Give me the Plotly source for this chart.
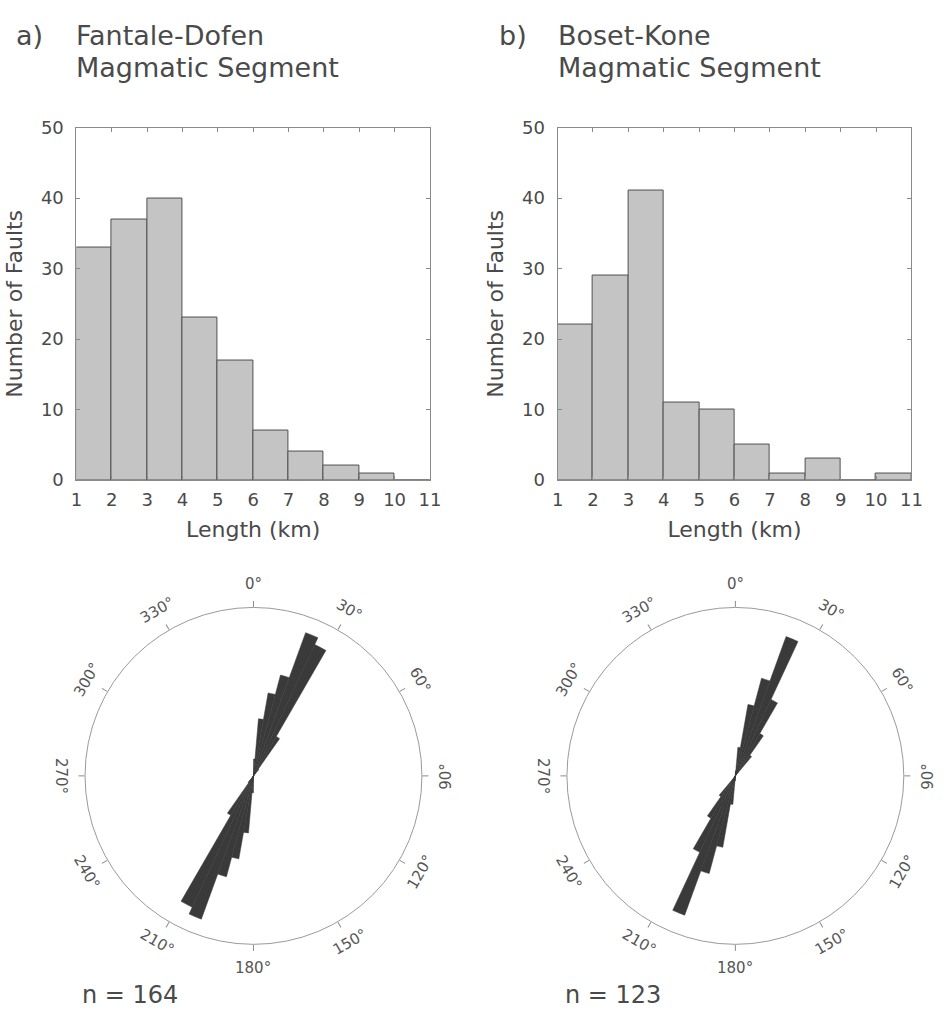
import plotly.graph_objects as go
import math

# ---------------- data ----------------
length_left_edges = [1, 2, 3, 4, 5, 6, 7, 8, 9, 10]
counts_fantale = [33, 37, 40, 23, 17, 7, 4, 2, 1, 0]
counts_boset = [22, 29, 41, 11, 10, 5, 1, 3, 0, 1]

# rose diagram: 5-degree strike bins 0-180 (axial data, mirrored to 180-360)
strike_bin_start = [0, 5, 10, 15, 20, 25, 30, 35, 40]
rose_fantale = [0.10, 0.34, 0.50, 0.62, 0.905, 0.86, 0.27, 0.05, 0.0]
rose_boset = [0.03, 0.17, 0.43, 0.60, 0.88, 0.50, 0.29, 0.15, 0.0]

angle_ticks = [0, 30, 60, 90, 120, 150, 180, 210, 240, 270, 300, 330]

title_line1 = ["Fantale-Dofen", "Boset-Kone"]
title_line2 = ["Magmatic Segment", "Magmatic Segment"]
panel_letters = ["a)", "b)"]
n_labels = ["n = 164", "n = 123"]

# ---------------- layout constants ----------------
W, H = 947, 1018
FONT = "DejaVu Sans, Liberation Sans, Arial, sans-serif"
TXT = "#4a4a4a"
AX = "#8a8a8a"

hist_x = [[71.7 / W, 431.7 / W], [561.7 / W, 922.0 / W]]
hist_y = [1 - 479 / H, 1 - 119 / H]
pol_x = [[80 / W, 424 / W], [570.7 / W, 914.7 / W]]
pol_y = [1 - 953 / H, 1 - 609 / H]

fig = go.Figure()

bin_centers = [e + 0.5 for e in length_left_edges]
for i, counts in enumerate([counts_fantale, counts_boset]):
    sfx = "" if i == 0 else "2"
    fig.add_trace(go.Bar(
        x=bin_centers, y=counts, width=1,
        marker=dict(color="#c4c4c4", line=dict(color="#505050", width=1)),
        xaxis="x" + sfx, yaxis="y" + sfx, showlegend=False,
    ))

for i, vals in enumerate([rose_fantale, rose_boset]):
    thetas = [s + 2.5 for s in strike_bin_start] + [s + 182.5 for s in strike_bin_start]
    rs = list(vals) + list(vals)
    fig.add_trace(go.Barpolar(
        theta=thetas, r=rs, width=5,
        marker=dict(color="#3a3a3a", line=dict(color="#3a3a3a", width=0.5)),
        subplot="polar" if i == 0 else "polar2", showlegend=False,
    ))

axis_common = dict(
    showline=True, linecolor=AX, linewidth=1, mirror="ticks",
    ticks="inside", ticklen=4, tickcolor=AX, showgrid=False, zeroline=False,
    tickfont=dict(size=18, color=TXT, family=FONT),
)

layout = dict(
    width=W, height=H, margin=dict(l=0, r=0, t=0, b=0),
    paper_bgcolor="white", plot_bgcolor="white", bargap=0,
    font=dict(family=FONT, color=TXT),
)

for i in range(2):
    sfx = "" if i == 0 else "2"
    layout["xaxis" + sfx] = dict(
        axis_common, domain=hist_x[i], range=[1, 11], tickmode="linear", tick0=1, dtick=1,
        anchor="y" + sfx, ticklabelstandoff=3,
        title=dict(text="Length (km)", font=dict(size=22, color=TXT), standoff=12),
    )
    layout["yaxis" + sfx] = dict(
        axis_common, domain=hist_y, range=[0, 50], tickmode="linear", tick0=0, dtick=10,
        anchor="x" + sfx, ticklabelstandoff=8,
        title=dict(text="Number of Faults", font=dict(size=22, color=TXT), standoff=12),
    )
    layout["polar" + sfx] = dict(
        domain=dict(x=pol_x[i], y=pol_y),
        bgcolor="white",
        radialaxis=dict(range=[0, 1], visible=False, showgrid=False),
        angularaxis=dict(
            direction="clockwise", rotation=90, tickmode="array", tickvals=angle_ticks,
            ticks="outside", ticklen=6, tickcolor=AX, showticklabels=False,
            showgrid=False, showline=True, linecolor="#9a9a9a", linewidth=1,
        ),
    )

annotations = []
label_r_px = 196
for i in range(2):
    cx = (pol_x[i][0] + pol_x[i][1]) / 2
    cy = (pol_y[0] + pol_y[1]) / 2
    for a in angle_ticks:
        rad = math.radians(a)
        if a < 90:
            rot = a
        elif a <= 270:
            rot = a - 180
        else:
            rot = a - 360
        annotations.append(dict(
            x=cx + label_r_px * math.sin(rad) / W, y=cy + label_r_px * math.cos(rad) / H,
            xref="paper", yref="paper", text=f"{a}°", showarrow=False, textangle=rot,
            xanchor="center", yanchor="middle", font=dict(size=15, color="#555", family=FONT),
        ))
    # panel headings
    annotations.append(dict(
        x=(8 if i == 0 else 500) / W, y=1 - 25 / H, xref="paper", yref="paper",
        text=panel_letters[i], showarrow=False, xanchor="left", yanchor="middle",
        font=dict(size=27, color=TXT, family=FONT),
    ))
    for line_txt, yc in [(title_line1[i], 25), (title_line2[i], 57.5)]:
        annotations.append(dict(
            x=(69.5 if i == 0 else 560) / W, y=1 - yc / H, xref="paper", yref="paper",
            text=line_txt, showarrow=False, xanchor="left", yanchor="middle",
            font=dict(size=27, color=TXT, family=FONT),
        ))
    annotations.append(dict(
        x=(75 if i == 0 else 567) / W, y=1 - 1005 / H, xref="paper", yref="paper",
        text=n_labels[i], showarrow=False, xanchor="left", yanchor="middle",
        font=dict(size=24, color=TXT, family=FONT),
    ))

layout["annotations"] = annotations
fig.update_layout(layout)
fig.write_html("out.html", config={"displayModeBar": False},
               post_script="document.body.style.margin='0px';")
